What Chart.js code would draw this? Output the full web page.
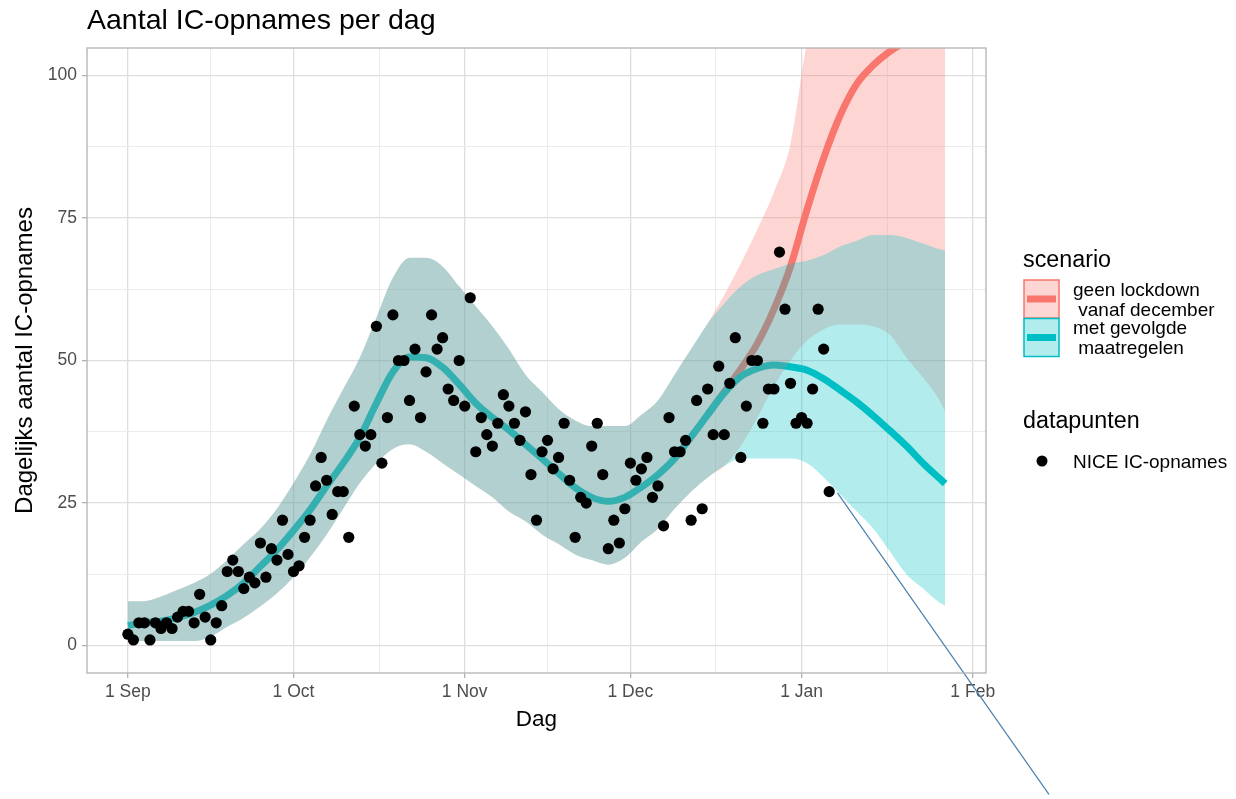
<!DOCTYPE html>
<html lang="nl">
<head>
<meta charset="utf-8">
<title>Aantal IC-opnames per dag</title>
<script src="https://cdn.jsdelivr.net/npm/chart.js@4.4.1/dist/chart.umd.min.js"></script>
<style>
  html, body { margin: 0; padding: 0; background: #fff; }
  canvas { display: block; }
</style>
</head>
<body>
<canvas id="icChart" width="1236" height="799"></canvas>
<script>
// NICE IC-opnames, een waarde per dag vanaf 1 september
const puntWaarden = [
    2, 1, 4, 4, 1, 4, 3, 4, 3, 5,
    6, 6, 4, 9, 5, 1, 4, 7, 13, 15,
    13, 10, 12, 11, 18, 12, 17, 15, 22, 16,
    13, 14, 19, 22, 28, 33, 29, 23, 27, 27,
    19, 42, 37, 35, 37, 56, 32, 40, 58, 50,
    50, 43, 52, 40, 48, 58, 52, 54, 45, 43,
    50, 42, 61, 34, 40, 37, 35, 39, 44, 42,
    39, 36, 41, 30, 22, 34, 36, 31, 33, 39,
    29, 19, 26, 25, 35, 39, 30, 17, 22, 18,
    24, 32, 29, 31, 33, 26, 28, 21, 40, 34,
    34, 36, 22, 43, 24, 45, 37, 49, 37, 46,
    54, 33, 42, 50, 50, 39, 45, 45, 69, 59,
    46, 39, 40, 39, 45, 59, 52, 27
];

// dagen sinds 1 september voor de banden en de lijn "met gevolgde maatregelen"
const bandDagen = [
    0, 3, 6, 9, 12, 15, 18, 21, 24, 27,
    30, 33, 36, 39, 42, 45, 48, 51, 54, 57,
    60, 63, 66, 69, 72, 75, 78, 81, 84, 87,
    90, 93, 96, 99, 102, 105, 108, 111, 114, 117,
    120, 123, 126, 129, 132, 135, 138, 141, 144, 147,
    148
];

const bandBovenMaatregelen = [
    7.8, 7.8, 8.6, 9.8, 11, 12.6, 15, 17.8, 20.5, 24,
    28.5, 33.5, 39.5, 45, 50.5, 57.5, 64.5, 68, 68, 66.5,
    63, 59.5, 56, 52, 47.5, 44.5, 41.5, 39.5, 38.5, 38.5,
    38.5, 40.5, 43, 47.5, 52, 56.5, 60, 63, 65, 66,
    67, 67.5, 68.5, 70, 71, 72, 72, 71.5, 70.5, 69.5,
    69.3
];
const bandOnderMaatregelen = [
    0.8, 0.8, 0.8, 0.8, 0.8, 1.6, 3.3, 4.9, 6.9, 9.2,
    12, 15.5, 19.5, 24, 28.5, 32, 34.5, 35.3, 34, 32,
    30, 28, 26, 23.5, 21.8, 19.5, 17.8, 16, 15, 14.2,
    15.4, 18.2, 20.5, 24, 27, 29.5, 31.5, 32.8, 32.8, 32.8,
    32.8, 32, 29.5, 26.5, 23.5, 20.5, 16.5, 12.5, 10, 7.5,
    7
];
const bandBovenGeenLockdown = [
    7.8, 7.8, 8.6, 9.8, 11, 12.6, 15, 17.8, 20.5, 24,
    28.5, 33.5, 39.5, 45, 50.5, 57.5, 64.5, 68, 68, 66.5,
    63, 59.5, 56, 52, 47.5, 44.5, 41.5, 39.5, 38.5, 38.5,
    38.5, 40.5, 43, 47.5, 52, 56.5, 61.5, 67, 73, 79.5,
    88, 106, 118, 130, 140, 148, 155, 160, 164, 167,
    168
];
const bandOnderGeenLockdown = [
    0.8, 0.8, 0.8, 0.8, 0.8, 1.6, 3.3, 4.9, 6.9, 9.2,
    12, 15.5, 19.5, 24, 28.5, 32, 34.5, 35.3, 34, 32,
    30, 28, 26, 23.5, 21.8, 19.5, 17.8, 16, 15, 14.2,
    15.4, 18.2, 20.5, 24, 27, 29.5, 31.5, 35, 40, 45.5,
    50, 53.5, 55.5, 56.3, 56.3, 56, 54.5, 50.5, 47, 43,
    41
];

const lijnMaatregelen = [
    3.5, 4, 4.3, 4.9, 5.8, 7.1, 8.8, 11, 13.9, 16.8,
    20.2, 23.8, 28, 32, 36.5, 42.5, 48, 50.6, 50.5, 48.8,
    45.8, 42.5, 40, 37.8, 35.3, 32.8, 30.2, 27.7, 26, 25.3,
    26, 27.8, 30, 32.8, 36.6, 40.5, 44.3, 47.2, 48.6, 49.2,
    48.9, 48.3, 46.8, 44.8, 42.7, 40.3, 37.7, 35, 32, 29.3,
    28.4
];

const lijnDagenGeenLockdown = [105, 108, 111, 114, 117, 120, 123, 126, 129, 132, 135, 138, 141, 144, 147, 148];
const lijnGeenLockdown = [40.5, 44.5, 48.5, 53, 59, 66.5, 76.5, 85.5, 93, 98.5, 101.8, 104.2, 106, 107.5, 108.6, 109];

// losse blauwe streep vanaf het laatste datapunt
const streepDagen = [128.5, 166.8];
const streepWaarden = [26.8, -26.1];

const maandTicks = [0, 30, 61, 91, 122, 153];
const maandLabels = ['1 Sep', '1 Oct', '1 Nov', '1 Dec', '1 Jan', '1 Feb'];
const tussenTicksX = [15, 45.5, 76, 106.5, 137.5];
const yTicks = [0, 25, 50, 75, 100];
const tussenTicksY = [12.5, 37.5, 62.5, 87.5];

const ROOD = '#F8766D';
const CYAAN = '#00BFC4';
const FONT = '"Liberation Sans", Arial, Helvetica, sans-serif';

function paren(xs, ys) {
    return xs.map((x, i) => ({x: x, y: ys[i]}));
}

function zetTicks(major, minor) {
    return function(scale) {
        scale.ticks = major.concat(minor).sort((a, b) => a - b).map(v => ({value: v}));
    };
}

// band = bovenrand met vulling naar de volgende dataset (onderrand)
function band(label, boven, onder, vulling, order) {
    return [
        {
            label: label,
            data: paren(bandDagen, boven),
            borderWidth: 0,
            pointRadius: 0,
            fill: '+1',
            backgroundColor: vulling,
            cubicInterpolationMode: 'monotone',
            order: order
        },
        {
            label: label + ' (onder)',
            data: paren(bandDagen, onder),
            borderWidth: 0,
            pointRadius: 0,
            fill: false,
            cubicInterpolationMode: 'monotone',
            order: order
        }
    ];
}

const kaderEnTekst = {
    id: 'kaderEnTekst',
    afterDatasetsDraw(chart) {
        const {ctx, chartArea} = chart;
        ctx.save();
        ctx.strokeStyle = '#b3b3b3';
        ctx.lineWidth = 1.3;
        ctx.strokeRect(chartArea.left, chartArea.top, chartArea.right - chartArea.left, chartArea.bottom - chartArea.top);
        ctx.restore();
    },
    afterDraw(chart) {
        const ctx = chart.ctx;
        const x0 = chart.chartArea.right + 37;
        ctx.save();
        ctx.fillStyle = '#000';
        ctx.textBaseline = 'alphabetic';
        ctx.textAlign = 'left';

        ctx.font = '28.5px ' + FONT;
        ctx.fillText('Aantal IC-opnames per dag', 87, 29);

        // scenario
        ctx.font = '23.3px ' + FONT;
        ctx.fillText('scenario', x0, 267);

        const sleutels = [
            {kleur: ROOD, vulling: 'rgba(248,118,109,0.3)', y: 280},
            {kleur: CYAAN, vulling: 'rgba(0,191,196,0.3)', y: 318.5}
        ];
        sleutels.forEach(s => {
            ctx.fillStyle = s.vulling;
            ctx.fillRect(x0 + 1, s.y, 35, 38);
            ctx.strokeStyle = s.kleur;
            ctx.lineWidth = 1.5;
            ctx.strokeRect(x0 + 1, s.y, 35, 38);
            ctx.lineWidth = 7;
            ctx.beginPath();
            ctx.moveTo(x0 + 4, s.y + 19);
            ctx.lineTo(x0 + 33, s.y + 19);
            ctx.stroke();
        });

        ctx.fillStyle = '#000';
        ctx.font = '19px ' + FONT;
        ctx.fillText('geen lockdown', x0 + 50, 296);
        ctx.fillText(' vanaf december', x0 + 50, 316);
        ctx.fillText('met gevolgde', x0 + 50, 334);
        ctx.fillText(' maatregelen', x0 + 50, 354);

        // datapunten
        ctx.font = '23.3px ' + FONT;
        ctx.fillText('datapunten', x0, 428);
        ctx.beginPath();
        ctx.arc(x0 + 19, 461, 5.5, 0, Math.PI * 2);
        ctx.fill();
        ctx.font = '19px ' + FONT;
        ctx.fillText('NICE IC-opnames', x0 + 50, 468);
        ctx.restore();
    }
};

const chartSettings = {
    type: 'line',
    data: {
        datasets: [
            {
                label: 'streep',
                data: paren(streepDagen, streepWaarden),
                borderColor: '#4a7fae',
                borderWidth: 1.2,
                pointRadius: 0,
                clip: false,
                order: 0
            },
            {
                type: 'scatter',
                label: 'NICE IC-opnames',
                data: puntWaarden.map((v, i) => ({x: i, y: v})),
                pointRadius: 5.6,
                pointBackgroundColor: '#000',
                pointBorderWidth: 0,
                showLine: false,
                order: 1
            },
            ...band('met gevolgde maatregelen', bandBovenMaatregelen, bandOnderMaatregelen, 'rgba(0,191,196,0.3)', 3),
            ...band('geen lockdown vanaf december', bandBovenGeenLockdown, bandOnderGeenLockdown, 'rgba(248,118,109,0.3)', 4),
            {
                label: 'met gevolgde maatregelen',
                data: paren(bandDagen, lijnMaatregelen),
                borderColor: CYAAN,
                borderWidth: 7,
                pointRadius: 0,
                cubicInterpolationMode: 'monotone',
                borderCapStyle: 'butt',
                clip: 0,
                order: 5
            },
            {
                label: 'geen lockdown vanaf december',
                data: paren(lijnDagenGeenLockdown, lijnGeenLockdown),
                borderColor: ROOD,
                borderWidth: 7,
                pointRadius: 0,
                cubicInterpolationMode: 'monotone',
                borderCapStyle: 'butt',
                clip: 0,
                order: 6
            }
        ]
    },
    options: {
        responsive: false,
        animation: false,
        devicePixelRatio: 1,
        layout: {
            padding: {left: 0, top: 48, right: 250, bottom: 56}
        },
        plugins: {
            legend: {display: false},
            tooltip: {enabled: false}
        },
        scales: {
            x: {
                type: 'linear',
                min: -7.4,
                max: 155.4,
                afterBuildTicks: zetTicks(maandTicks, tussenTicksX),
                afterFit: function(scale) { scale.height = 70; },
                ticks: {
                    autoSkip: false,
                    maxRotation: 0,
                    padding: 4,
                    color: '#4d4d4d',
                    font: {family: FONT, size: 17.5},
                    callback: function(value) {
                        const i = maandTicks.indexOf(value);
                        return i >= 0 ? maandLabels[i] : '';
                    }
                },
                grid: {
                    color: c => maandTicks.includes(c.tick.value) ? '#dedede' : '#ececec',
                    lineWidth: c => maandTicks.includes(c.tick.value) ? 1.3 : 1,
                    tickLength: 5,
                    tickColor: c => maandTicks.includes(c.tick.value) ? '#b3b3b3' : 'rgba(0,0,0,0)',
                    tickWidth: 1.3
                },
                border: {display: false},
                title: {
                    display: true,
                    text: 'Dag',
                    color: '#000',
                    padding: {top: 0, bottom: 10},
                    font: {family: FONT, size: 22.5}
                }
            },
            y: {
                min: -4.8,
                max: 104.8,
                afterBuildTicks: zetTicks(yTicks, tussenTicksY),
                afterFit: function(scale) { scale.width = 87; },
                ticks: {
                    padding: 5,
                    color: '#4d4d4d',
                    font: {family: FONT, size: 17.5},
                    callback: function(value) {
                        return yTicks.includes(value) ? String(value) : '';
                    }
                },
                grid: {
                    color: c => yTicks.includes(c.tick.value) ? '#dedede' : '#ececec',
                    lineWidth: c => yTicks.includes(c.tick.value) ? 1.3 : 1,
                    tickLength: 5,
                    tickColor: c => yTicks.includes(c.tick.value) ? '#b3b3b3' : 'rgba(0,0,0,0)',
                    tickWidth: 1.3
                },
                border: {display: false},
                title: {
                    display: true,
                    text: 'Dagelijks aantal IC-opnames',
                    color: '#000',
                    padding: {top: 11, bottom: 0},
                    font: {family: FONT, size: 24}
                }
            }
        }
    },
    plugins: [kaderEnTekst]
};

window.onload = function() {
    const ctx = document.getElementById('icChart').getContext('2d');
    new Chart(ctx, chartSettings);
};
</script>
</body>
</html>
